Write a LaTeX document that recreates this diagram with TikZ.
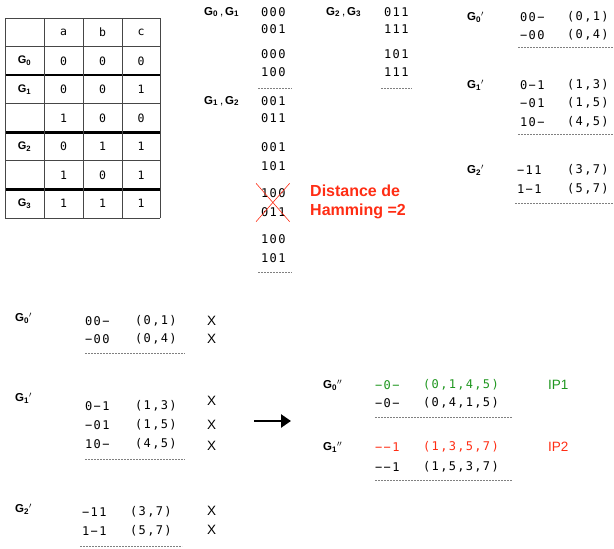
\documentclass[tikz,border=0pt]{standalone}
\usepackage{fontspec}
\setmainfont{Liberation Sans}
\newfontfamily\bitfont[LetterSpace=11]{DejaVu Sans Mono}
\newfontfamily\cellfont{DejaVu Sans Mono}
\definecolor{hamred}{RGB}{255, 45, 20}
\definecolor{ipgreen}{RGB}{30, 150, 30}
\definecolor{gridgray}{RGB}{70, 70, 70}
\usetikzlibrary{arrows.meta, positioning, calc}
\newcommand{\grp}[1]{\textbf{G\textsubscript{#1}}}

\begin{document}
\begin{tikzpicture}[x=1pt, y=-1pt,
  bits/.style={font=\bitfont\fontsize{12}{13}\selectfont, anchor=west, inner sep=0pt},
  grplab/.style={font=\fontsize{11.5}{13}\selectfont, anchor=west, inner sep=0pt},
  cell/.style={font=\cellfont\fontsize{11.5}{13}\selectfont, inner sep=0pt},
  xmark/.style={font=\fontsize{13.5}{15}\selectfont, anchor=west, inner sep=0pt},
  dashsep/.style={draw=gray, dash pattern=on 2pt off 1pt, line width=0.5pt}]

\useasboundingbox (0,0) rectangle (614,549);

% table of minterms
\foreach \i in {0,...,7}
  \draw[gridgray, line width=0.8pt] (5,{18+28.57*\i}) -- (160,{18+28.57*\i});
\foreach \i in {2,4,6}
  \draw[line width=2.6pt] (5,{18+28.57*\i}) -- (160,{18+28.57*\i});
\foreach \x in {5,44,83,122,160}
  \draw[gridgray, line width=0.8pt] (\x,18) -- (\x,218);
\foreach \lab/\va/\vb/\vc [count=\r from 0] in
  {{}/a/b/c, \grp{0}/0/0/0, \grp{1}/0/0/1, {}/1/0/0,
   \grp{2}/0/1/1, {}/1/0/1, \grp{3}/1/1/1} {
  \node[cell, font=\fontsize{11}{12}\selectfont] (lab-\r) at (24.5,{32.3+28.57*\r}) {\lab};
  \node[cell] (ca-\r) at (63.5,{32.3+28.57*\r}) {\va};
  \node[cell] (cb-\r) at (102.5,{32.3+28.57*\r}) {\vb};
  \node[cell] (cc-\r) at (141,{32.3+28.57*\r}) {\vc};
}

% pairs G0,G1 and G1,G2
\node[grplab] (g01) at (204,12) {\grp{0}\,,\,\grp{1}};
\foreach \txt/\yy [count=\k] in {000/12, 001/29, 000/54, 100/72}
  \node[bits] (ga-\k) at (261,\yy) {\txt};
\draw[dashsep] (258,88) -- (292,88);
\node[grplab] (g12) at (204,101) {\grp{1}\,,\,\grp{2}};
\foreach \txt/\yy [count=\k] in {001/101, 011/118, 001/147, 101/166,
    100/193, 011/212, 100/239, 101/258}
  \node[bits] (gb-\k) at (261,\yy) {\txt};
\draw[dashsep] (258,272) -- (292,272);
\draw[hamred, line width=0.6pt] ($(gb-5.north west)+(-5,-5)$) -- ($(gb-6.south east)+(4,5)$);
\draw[hamred, line width=0.6pt] ($(gb-6.south west)+(-5,5)$) -- ($(gb-5.north east)+(4,-5)$);
\node[anchor=north west, inner sep=0pt, align=left, text=hamred,
  font=\bfseries\fontsize{16}{19}\selectfont] (hamming) at (310,185)
  {Distance de\\Hamming =2};

% pair G2,G3
\node[grplab] (g23) at (326,12) {\grp{2}\,,\,\grp{3}};
\foreach \txt/\yy [count=\k] in {011/12, 111/29, 101/54, 111/72}
  \node[bits] (gc-\k) at (384,\yy) {\txt};
\draw[dashsep] (381,88) -- (412,88);

% first merge, top right
\node[grplab] (h0) at (467,17) {\grp{0}$'$};
\foreach \b/\p/\yy [count=\k] in {00−/{(0,1)}/17, −00/{(0,4)}/35} {
  \node[bits] (ha-\k) at (520,\yy) {\b};
  \node[bits] (hpa-\k) at (567,\yy) {\p};
}
\draw[dashsep] (518,47) -- (613,47);
\node[grplab] (h1) at (467,85) {\grp{1}$'$};
\foreach \b/\p/\yy [count=\k] in {0−1/{(1,3)}/85, −01/{(1,5)}/103, 10−/{(4,5)}/122} {
  \node[bits] (hb-\k) at (520,\yy) {\b};
  \node[bits] (hpb-\k) at (567,\yy) {\p};
}
\draw[dashsep] (518,134) -- (613,134);
\node[grplab] (h2) at (467,170) {\grp{2}$'$};
\foreach \b/\p/\yy [count=\k] in {−11/{(3,7)}/170, 1−1/{(5,7)}/189} {
  \node[bits] (hc-\k) at (517,\yy) {\b};
  \node[bits] (hpc-\k) at (567,\yy) {\p};
}
\draw[dashsep] (515,203) -- (613,203);

% first merge again, bottom left, all terms used
\node[grplab] (k0) at (15,318) {\grp{0}$'$};
\foreach \b/\p/\yy [count=\k] in {00−/{(0,1)}/321, −00/{(0,4)}/339} {
  \node[bits] (ka-\k) at (85,\yy) {\b};
  \node[bits] (kpa-\k) at (135,\yy) {\p};
  \node[xmark] (kxa-\k) at (207,\yy) {X};
}
\draw[dashsep] (85,353) -- (185,353);
\node[grplab] (k1) at (15,398) {\grp{1}$'$};
\foreach \b/\p/\yy [count=\k] in {0−1/{(1,3)}/406, −01/{(1,5)}/425, 10−/{(4,5)}/444} {
  \node[bits] (kb-\k) at (85,\yy) {\b};
  \node[bits] (kpb-\k) at (135,\yy) {\p};
}
\foreach \yy [count=\k] in {401, 425, 446}
  \node[xmark] (kxb-\k) at (207,\yy) {X};
\draw[dashsep] (85,459) -- (185,459);
\node[grplab] (k2) at (15,509) {\grp{2}$'$};
\foreach \b/\p/\yy [count=\k] in {−11/{(3,7)}/512, 1−1/{(5,7)}/531} {
  \node[bits] (kc-\k) at (82,\yy) {\b};
  \node[bits] (kpc-\k) at (130,\yy) {\p};
  \node[xmark] (kxc-\k) at (207,{\yy-1}) {X};
}
\draw[dashsep] (80,546) -- (182,546);

\coordinate (arrtail) at (254,421);
\coordinate (arrhead) at (291,421);
\draw[line width=2.8pt, -{Triangle[length=10pt, width=13pt]}] (arrtail) -- (arrhead);

% second merge, prime implicants
\node[grplab] (p0) at (323,385) {\grp{0}$''$};
\node[bits, text=ipgreen] (pa-1) at (375,385) {−0−};
\node[bits, text=ipgreen] (ppa-1) at (423,385) {(0,1,4,5)};
\node[bits] (pa-2) at (375,403) {−0−};
\node[bits] (ppa-2) at (423,403) {(0,4,1,5)};
\node[xmark, text=ipgreen] (ip1) at (548,385) {IP1};
\draw[dashsep] (375,417) -- (512,417);
\node[grplab] (p1) at (323,447) {\grp{1}$''$};
\node[bits, text=hamred] (pb-1) at (375,447) {−−1};
\node[bits, text=hamred] (ppb-1) at (423,447) {(1,3,5,7)};
\node[bits] (pb-2) at (375,467) {−−1};
\node[bits] (ppb-2) at (423,467) {(1,5,3,7)};
\node[xmark, text=hamred] (ip2) at (548,447) {IP2};
\draw[dashsep] (375,480) -- (512,480);
\end{tikzpicture}
\end{document}
